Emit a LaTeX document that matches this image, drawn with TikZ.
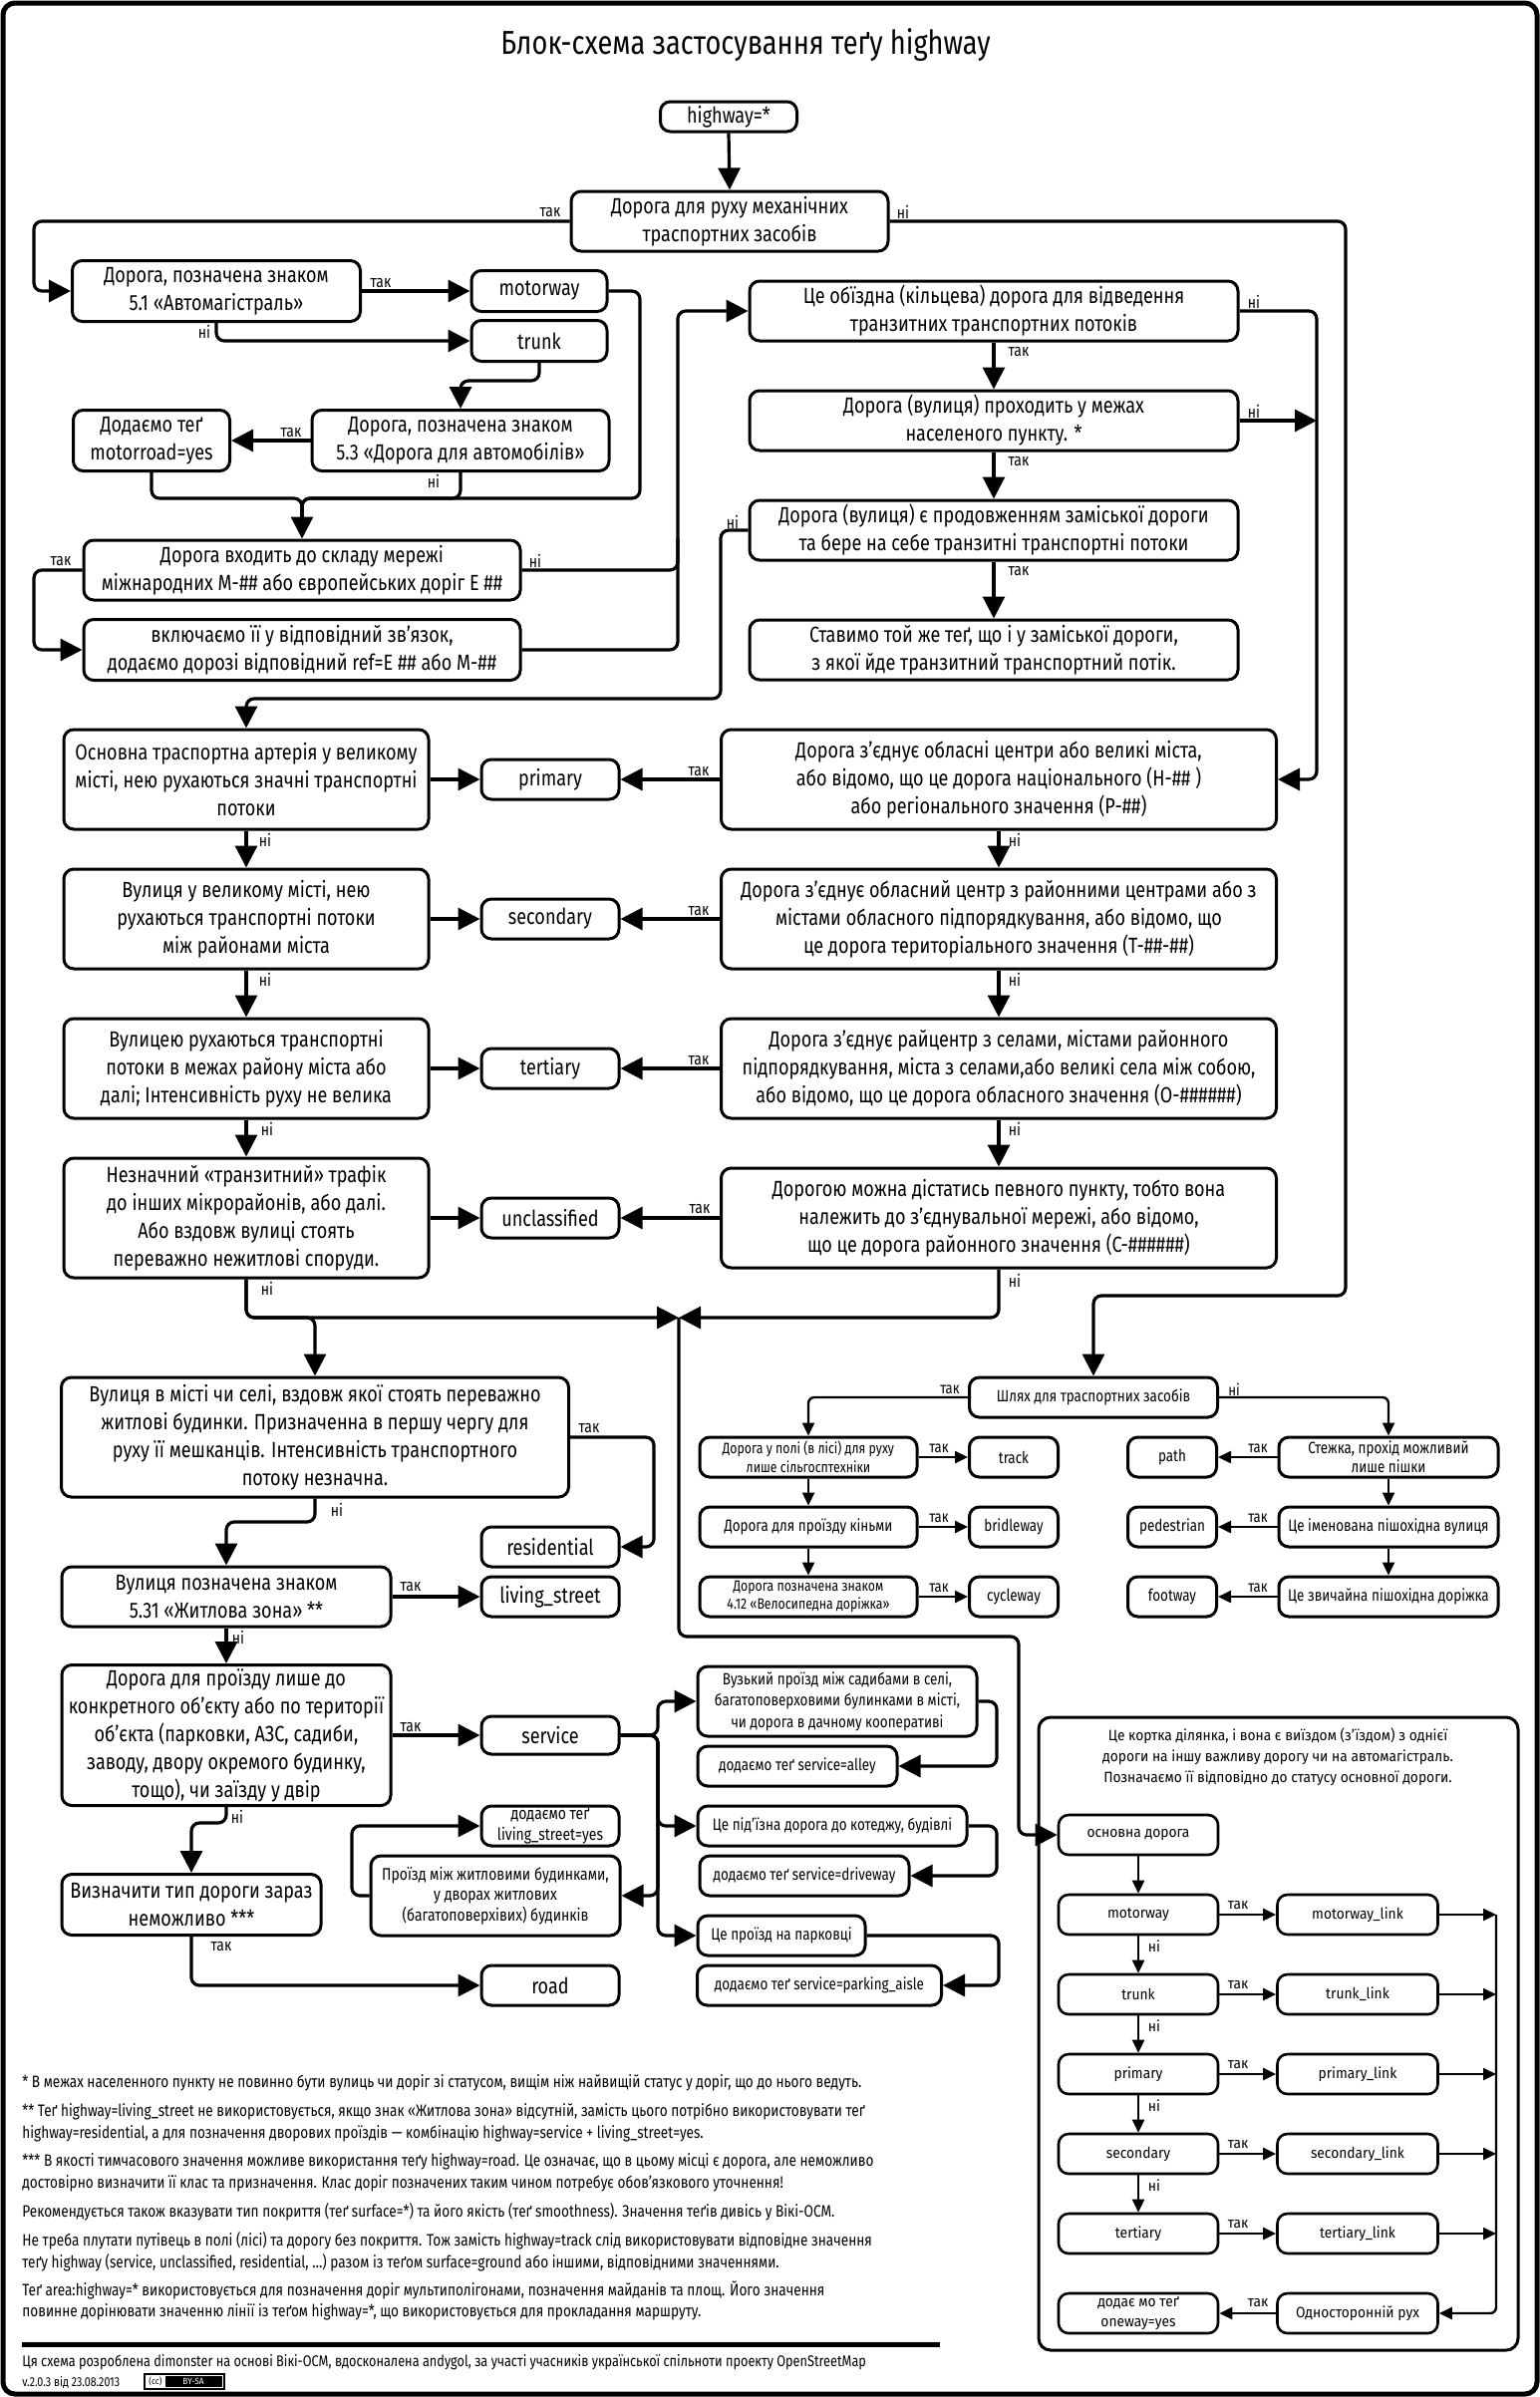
\documentclass[tikz,border=0pt]{standalone}
\usepackage{fontspec}
\setmainfont{Fira Sans}
\newfontfamily\cf[FakeStretch=0.82]{Fira Sans}
\newfontfamily\rf[FakeStretch=0.92]{Fira Sans}
\usetikzlibrary{arrows.meta}
\begin{document}
\begin{tikzpicture}[x=0.5pt,y=-0.5pt,
  box/.style={draw, line width=1.5pt, rounded corners=5pt, align=center, inner sep=1pt, font=\cf\fontsize{11}{14}\selectfont},
  sbox/.style={box, font=\cf\fontsize{8.2}{9.5}\selectfont},
  fanbox/.style={box, font=\cf\fontsize{8.2}{10.7}\selectfont},
  mbox/.style={box, font=\cf\fontsize{8.5}{10.2}\selectfont},
  pbox/.style={box, line width=1.3pt, font=\rf\fontsize{7.5}{10}\selectfont},
  sz/.style 2 args={minimum width=#1*0.5pt, minimum height=#2*0.5pt},
  lab/.style={inner sep=0pt, font=\cf\fontsize{8.5}{10}\selectfont},
  slab/.style={inner sep=0pt, font=\cf\fontsize{8}{9}\selectfont},
  plab/.style={inner sep=0pt, font=\rf\fontsize{7.5}{9}\selectfont},
  ln/.style={line width=1.6pt, rounded corners=4pt},
  conn/.style={ln, -{Triangle[length=11pt,width=11pt]}},
  sln/.style={line width=1.2pt, rounded corners=3pt},
  sconn/.style={sln, -{Triangle[length=6.5pt,width=6pt]}},
  note/.style={anchor=base west, inner sep=0pt, font=\cf\fontsize{8.3}{9}\selectfont},
]
\useasboundingbox (0,0) rectangle (1545,2405);
\draw[line width=2.5pt, rounded corners=6pt] (3,3) rectangle (1542,2402);

\node[inner sep=0pt, font=\cf\fontsize{16.6}{18}\selectfont] (title) at (748,45) {Блок-схема застосування теґу highway};

% ---------- top part ----------
\node[box, sz={137}{30}] (hw) at (731,117) {highway=*};
\node[box, sz={318}{60}] (q1) at (732,222) {Дорога для руху механічних\\траспортних засобів};
\node[box, sz={289}{61}] (q51) at (217,292) {Дорога, позначена знаком\\5.1 «Автомагістраль»};
\node[box, sz={136}{41}] (mw) at (541,292) {motorway};
\node[box, sz={136}{41}] (tr) at (541,342) {trunk};
\node[box, sz={298}{61}] (q53) at (462,442) {Дорога, позначена знаком\\5.3 «Дорога для автомобілів»};
\node[box, sz={157}{61}] (mr) at (152,442) {Додаємо теґ\\motorroad=yes};
\node[box, sz={438}{60}] (qE) at (303,572) {Дорога входить до складу мережі\\міжнародних М-\#\# або європейських доріг Е \#\#};
\node[box, sz={438}{61}] (incl) at (303,652) {включаємо її у відповідний зв’язок,\\додаємо дорозі відповідний ref=E \#\# або М-\#\#};
\node[box, sz={490}{60}] (qB) at (997,312) {Це обїздна (кільцева) дорога для відведення\\транзитних транспортних потоків};
\node[box, sz={490}{60}] (qN) at (997,422) {Дорога (вулиця) проходить у межах\\населеного пункту. *};
\node[box, sz={490}{60}] (qP) at (997,532) {Дорога (вулиця) є продовженням заміської дороги\\та бере на себе транзитні транспортні потоки};
\node[box, sz={490}{60}] (same) at (997,652) {Ставимо той же теґ, що і у заміської дороги,\\з якої йде транзитний транспортний потік.};

% ---------- classification columns ----------
\node[box, sz={366}{100}] (a1) at (247,782) {Основна траспортна артерія у великому\\місті, нею рухаються значні транспортні\\потоки};
\node[box, sz={138}{40}] (prim) at (552,782) {primary};
\node[box, sz={557}{100}] (b1) at (1002,782) {Дорога з’єднує обласні центри або великі міста,\\або відомо, що це дорога національного (Н-\#\# )\\або регіонального значення (Р-\#\#)};
\node[box, sz={366}{100}] (a2) at (247,922) {Вулиця у великому місті, нею\\рухаються транспортні потоки\\між районами міста};
\node[box, sz={138}{40}] (sec) at (552,922) {secondary};
\node[box, sz={557}{100}] (b2) at (1002,922) {Дорога з’єднує обласний центр з районними центрами або з\\містами обласного підпорядкування, або відомо, що\\це дорога територіального значення (Т-\#\#-\#\#)};
\node[box, sz={366}{100}] (a3) at (247,1072) {Вулицею рухаються транспортні\\потоки в межах району міста або\\далі; Інтенсивність руху не велика};
\node[box, sz={138}{40}] (ter) at (552,1072) {tertiary};
\node[box, sz={557}{100}] (b3) at (1002,1072) {Дорога з’єднує райцентр з селами, містами районного\\підпорядкування, міста з селами,або великі села між собою,\\або відомо, що це дорога обласного значення (О-\#\#\#\#\#\#)};
\node[box, sz={366}{120}] (a4) at (247,1222) {Незначний «транзитний» трафік\\до інших мікрорайонів, або далі.\\Або вздовж вулиці стоять\\переважно нежитлові споруди.};
\node[box, sz={138}{40}] (uncl) at (552,1222) {unclassified};
\node[box, sz={557}{100}] (b4) at (1002,1222) {Дорогою можна дістатись певного пункту, тобто вона\\належить до з’єднувальної мережі, або відомо,\\що це дорога районного значення (С-\#\#\#\#\#\#)};

% ---------- lower left ----------
\node[box, sz={509}{120}] (res) at (316,1442) {Вулиця в місті чи селі, вздовж якої стоять переважно\\житлові будинки. Призначенна в першу чергу для\\руху її мешканців. Інтенсивність транспортного\\потоку незначна.};
\node[box, sz={138}{40}] (resid) at (552,1552) {residential};
\node[box, sz={138}{40}] (liv) at (552,1602) {living\_street};
\node[box, sz={330}{60}] (ls) at (227,1602) {Вулиця позначена знаком\\5.31 «Житлова зона» **};
\node[box, sz={330}{141}] (svcq) at (227,1741) {Дорога для проїзду лише до\\конкретного об’єкту або по території\\об’єкта (парковки, АЗС, садиби,\\заводу, двору окремого будинку,\\тощо), чи заїзду у двір};
\node[box, sz={138}{38}] (svc) at (552,1741) {service};
\node[box, sz={260}{61}] (undef) at (192,1911) {Визначити тип дороги зараз\\неможливо ***};
\node[box, sz={138}{40}] (road) at (552,1992) {road};
\node[mbox, sz={138}{40}] (lsy) at (552,1832) {додаємо теґ\\living\_street=yes};
\node[mbox, sz={250}{80}] (yard) at (497,1902) {Проїзд між житловими будинками,\\у дворах житлових\\(багатоповерхівих) будинків};

\node[fanbox, sz={280}{70}] (narrow) at (840,1707) {Вузький проїзд між садибами в селі,\\багатоповерховими булинками в місті,\\чи дорога в дачному кооперативі};
\node[fanbox, sz={200}{40}] (alley) at (800,1772) {додаємо теґ service=alley};
\node[fanbox, sz={270}{40}] (drvq) at (835,1832) {Це під’їзна дорога до котеджу, будівлі};
\node[fanbox, sz={210}{40}] (drv) at (807,1882) {додаємо теґ service=driveway};
\node[fanbox, sz={168}{40}] (prkq) at (784,1942) {Це проїзд на парковці};
\node[fanbox, sz={245}{40}] (prk) at (822,1992) {додаємо теґ service=parking\_aisle};

% ---------- paths section ----------
\node[sbox, sz={249}{40}] (pathq) at (1097,1402) {Шлях для траспортних засобів};
\node[sbox, sz={218}{40}, font=\cf\fontsize{7.5}{9.5}\selectfont] (fld) at (811,1462) {Дорога у полі (в лісі) для руху\\лише сільгосптехніки};
\node[sbox, sz={89}{40}] (track) at (1017,1462) {track};
\node[sbox, sz={218}{40}] (horse) at (811,1532) {Дорога для проїзду кіньми};
\node[sbox, sz={89}{40}] (bridle) at (1017,1532) {bridleway};
\node[sbox, sz={218}{40}, font=\cf\fontsize{7.5}{8.6}\selectfont] (cycq) at (811,1602) {Дорога позначена знаком\\4.12 «Велосипедна доріжка»};
\node[sbox, sz={89}{40}] (cyc) at (1017,1602) {cycleway};
\node[sbox, sz={220}{40}] (foot1) at (1393,1462) {Стежка, прохід можливий\\лише пішки};
\node[sbox, sz={89}{40}] (pth) at (1176,1462) {path};
\node[sbox, sz={220}{40}] (pedq) at (1393,1532) {Це іменована пішохідна вулиця};
\node[sbox, sz={89}{40}] (ped) at (1176,1532) {pedestrian};
\node[sbox, sz={220}{40}] (fwq) at (1393,1602) {Це звичайна пішохідна доріжка};
\node[sbox, sz={89}{40}] (fw) at (1176,1602) {footway};

% ---------- link panel ----------
\draw[line width=1.5pt, rounded corners=6pt] (1042,1723) rectangle (1523,2358);
\node[align=center, inner sep=0pt, font=\rf\fontsize{7.5}{10.5}\selectfont] (phead) at (1282,1763) {Це кортка ділянка, і вона є виїздом (з’їздом) з однієї\\дороги на іншу важливу дорогу чи на автомагістраль.\\Позначаємо її відповідно до статусу основної дороги.};
\node[pbox, sz={160}{40}] (base) at (1142,1841) {основна дорога};
\node[pbox, sz={160}{40}] (pmw) at (1142,1921) {motorway};
\node[pbox, sz={160}{40}] (ptr) at (1142,2001) {trunk};
\node[pbox, sz={160}{40}] (ppr) at (1142,2081) {primary};
\node[pbox, sz={160}{40}] (psec) at (1142,2161) {secondary};
\node[pbox, sz={160}{40}] (pter) at (1142,2241) {tertiary};
\node[pbox, sz={160}{40}] (ow) at (1142,2321) {додає мо теґ\\oneway=yes};
\node[pbox, sz={161}{40}] (lmw) at (1362,1921) {motorway\_link};
\node[pbox, sz={161}{40}] (ltr) at (1362,2001) {trunk\_link};
\node[pbox, sz={161}{40}] (lpr) at (1362,2081) {primary\_link};
\node[pbox, sz={161}{40}] (lsec) at (1362,2161) {secondary\_link};
\node[pbox, sz={161}{40}] (lter) at (1362,2241) {tertiary\_link};
\node[pbox, sz={161}{40}] (owq) at (1362,2321) {Односторонній рух};

% ---------- coordinates ----------
\coordinate (jN) at (1321,422);
\coordinate (bow) at (681,1322);
\coordinate (c1) at (1501,1921);
\coordinate (c2) at (1501,2001);
\coordinate (c3) at (1501,2081);
\coordinate (c4) at (1501,2161);
\coordinate (c5) at (1501,2241);

% ---------- connectors ----------
\draw[conn] (hw.south) -- (q1.north);
\draw[conn] (q1.west) -- (34,222) -- (34,292) -- (q51.west);
\draw[conn] (q1.east) -- (1350,222) -- (1350,1300) -- (1097,1300) -- (pathq.north);
\draw[conn] (q51.east) -- (mw.west);
\draw[conn] (q51.south) -- (217,342) -- (tr.west);
\draw[conn] (tr.south) -- (541,382) -- (462,382) -- (q53.north);
\draw[conn] (q53.west) -- (mr.east);
\draw[conn] (mr.south) -- (152,500) -- (303,500) -- (qE.north);
\draw[ln] (q53.south) -- (462,500) -- (303,500) -- (303,520);
\draw[ln] (mw.east) -- (642,292) -- (642,500) -- (303,500) -- (303,520);
\draw[conn] (qE.west) -- (34,572) -- (34,652) -- (incl.west);
\draw[ln] (qE.east) -- (680,572) -- (680,540);
\draw[conn] (incl.east) -- (680,652) -- (680,312) -- (qB.west);
\draw[conn] (qB.east) -- (1321,312) -- (1321,782) -- (b1.east);
\draw[conn] (qB.south) -- (qN.north);
\draw[conn] (qN.east) -- (jN);
\draw[conn] (qN.south) -- (qP.north);
\draw[conn] (qP.south) -- (same.north);
\draw[conn] (qP.west) -- (723,532) -- (723,701) -- (247,701) -- (a1.north);

\draw[conn] (a1.east) -- (prim.west);
\draw[conn] (b1.west) -- (prim.east);
\draw[conn] (a2.east) -- (sec.west);
\draw[conn] (b2.west) -- (sec.east);
\draw[conn] (a3.east) -- (ter.west);
\draw[conn] (b3.west) -- (ter.east);
\draw[conn] (a4.east) -- (uncl.west);
\draw[conn] (b4.west) -- (uncl.east);
\draw[conn] (a1.south) -- (a2.north);
\draw[conn] (a2.south) -- (a3.north);
\draw[conn] (a3.south) -- (a4.north);
\draw[conn] (b1.south) -- (b2.north);
\draw[conn] (b2.south) -- (b3.north);
\draw[conn] (b3.south) -- (b4.north);

\draw[conn] (a4.south) -- (247,1322) -- (bow);
\draw[conn] (a4.south) -- (247,1322) -- (316,1322) -- (res.north);
\draw[conn] (b4.south) -- (1002,1322) -- (bow);
\draw[conn] (bow) -- (681,1642) -- (1022,1642) -- (1022,1841) -- (base.west);

\draw[conn] (res.east) -- (656,1442) -- (656,1552) -- (resid.east);
\draw[conn] (res.south) -- (316,1527) -- (227,1527) -- (ls.north);
\draw[conn] (ls.east) -- (liv.west);
\draw[conn] (ls.south) -- (svcq.north);
\draw[conn] (svcq.east) -- (svc.west);
\draw[conn] (svcq.south) -- (227,1829) -- (192,1829) -- (undef.north);
\draw[conn] (undef.south) -- (192,1992) -- (road.west);
\draw[conn] (yard.west) -- (353,1902) -- (353,1832) -- (lsy.west);
\draw[conn] (svc.east) -- (660,1741) -- (660,1707) -- (narrow.west);
\draw[conn] (svc.east) -- (660,1741) -- (660,1832) -- (drvq.west);
\draw[conn] (svc.east) -- (660,1741) -- (660,1942) -- (prkq.west);
\draw[conn] (svc.east) -- (660,1741) -- (660,1902) -- (yard.east);
\draw[conn] (narrow.east) -- (1000,1707) -- (1000,1772) -- (alley.east);
\draw[conn] (drvq.east) -- (1000,1832) -- (1000,1882) -- (drv.east);
\draw[conn] (prkq.east) -- (1002,1942) -- (1002,1992) -- (prk.east);

\draw[sconn] (pathq.west) -- (811,1402) -- (fld.north);
\draw[sconn] (pathq.east) -- (1393,1402) -- (foot1.north);
\draw[sconn] (fld.east) -- (track.west);
\draw[sconn] (horse.east) -- (bridle.west);
\draw[sconn] (cycq.east) -- (cyc.west);
\draw[sconn] (fld.south) -- (horse.north);
\draw[sconn] (horse.south) -- (cycq.north);
\draw[sconn] (foot1.west) -- (pth.east);
\draw[sconn] (pedq.west) -- (ped.east);
\draw[sconn] (fwq.west) -- (fw.east);
\draw[sconn] (foot1.south) -- (pedq.north);
\draw[sconn] (pedq.south) -- (fwq.north);

\draw[sconn] (base.south) -- (pmw.north);
\draw[sconn] (pmw.south) -- (ptr.north);
\draw[sconn] (ptr.south) -- (ppr.north);
\draw[sconn] (ppr.south) -- (psec.north);
\draw[sconn] (psec.south) -- (pter.north);
\draw[sconn] (pmw.east) -- (lmw.west);
\draw[sconn] (ptr.east) -- (ltr.west);
\draw[sconn] (ppr.east) -- (lpr.west);
\draw[sconn] (psec.east) -- (lsec.west);
\draw[sconn] (pter.east) -- (lter.west);
\draw[sconn] (lmw.east) -- (c1);
\draw[sconn] (ltr.east) -- (c2);
\draw[sconn] (lpr.east) -- (c3);
\draw[sconn] (lsec.east) -- (c4);
\draw[sconn] (lter.east) -- (c5);
\draw[sconn] (c1) -- (1501,2321) -- (owq.east);
\draw[sconn] (owq.west) -- (ow.east);

% ---------- labels ----------
\node[lab] (l1) at (552,213) {так};
\node[lab] (l2) at (906,213) {ні};
\node[lab] (l3) at (382,284) {так};
\node[lab] (l4) at (205,333) {ні};
\node[lab] (l5) at (292,434) {так};
\node[lab] (l6) at (435,483) {ні};
\node[lab] (l7) at (61,563) {так};
\node[lab] (l8) at (537,563) {ні};
\node[lab] (l9) at (1258,303) {ні};
\node[lab] (l10) at (1022,353) {так};
\node[lab] (l11) at (1258,413) {ні};
\node[lab] (l12) at (1022,463) {так};
\node[lab] (l13) at (735,524) {ні};
\node[lab] (l14) at (1022,573) {так};
\node[lab] (l15) at (701,774) {так};
\node[lab] (l16) at (266,843) {ні};
\node[lab] (l17) at (1018,843) {ні};
\node[lab] (l18) at (701,914) {так};
\node[lab] (l19) at (266,983) {ні};
\node[lab] (l20) at (1018,983) {ні};
\node[lab] (l21) at (701,1064) {так};
\node[lab] (l22) at (268,1133) {ні};
\node[lab] (l23) at (1018,1133) {ні};
\node[lab] (l24) at (702,1213) {так};
\node[lab] (l25) at (268,1293) {ні};
\node[lab] (l26) at (1018,1285) {ні};
\node[lab] (l27) at (591,1433) {так};
\node[lab] (l28) at (338,1515) {ні};
\node[lab] (l29) at (412,1592) {так};
\node[lab] (l30) at (239,1643) {ні};
\node[lab] (l31) at (412,1733) {так};
\node[lab] (l32) at (238,1823) {ні};
\node[lab] (l33) at (222,1953) {так};
\node[slab] (l34) at (953,1394) {так};
\node[slab] (l35) at (1238,1394) {ні};
\node[slab] (l36) at (942,1453) {так};
\node[slab] (l37) at (942,1523) {так};
\node[slab] (l38) at (942,1593) {так};
\node[slab] (l39) at (1262,1453) {так};
\node[slab] (l40) at (1262,1523) {так};
\node[slab] (l41) at (1262,1593) {так};
\node[plab] (l42) at (1242,1912) {так};
\node[plab] (l43) at (1242,1992) {так};
\node[plab] (l44) at (1242,2072) {так};
\node[plab] (l45) at (1242,2152) {так};
\node[plab] (l46) at (1242,2232) {так};
\node[plab] (l47) at (1158,1953) {ні};
\node[plab] (l48) at (1158,2033) {ні};
\node[plab] (l49) at (1158,2113) {ні};
\node[plab] (l50) at (1158,2193) {ні};
\node[plab] (l51) at (1262,2311) {так};

% ---------- notes ----------
\node[note] (n1) at (22,2094) {* В межах населенного пункту не повинно бути вулиць чи доріг зі статусом, вищім ніж найвищій статус у доріг, що до нього ведуть.};
\node[note] (n2) at (22,2123) {** Теґ highway=living\_street не використовується, якщо знак «Житлова зона» відсутній, замість цього потрібно використовувати теґ};
\node[note] (n3) at (22,2145) {highway=residential, а для позначення дворових проїздів — комбінацію highway=service + living\_street=yes.};
\node[note] (n4) at (22,2173) {*** В якості тимчасового значення можливе використання теґу highway=road. Це означає, що в цьому місці є дорога, але неможливо};
\node[note] (n5) at (22,2195) {достовірно визначити її клас та призначення. Клас доріг позначених таким чином потребує обов’язкового уточнення!};
\node[note] (n6) at (22,2224) {Рекомендується також вказувати тип покриття (теґ surface=*) та його якість (теґ smoothness). Значення теґів дивісь у Вікі-ОСМ.};
\node[note] (n7) at (22,2253) {Не треба плутати путівець в полі (лісі) та дорогу без покриття. Тож замість highway=track слід використовувати відповідне значення};
\node[note] (n8) at (22,2275) {теґу highway (service, unclassified, residential, …) разом із теґом surface=ground або іншими, відповідними значеннями.};
\node[note] (n9) at (22,2303) {Теґ area:highway=* використовується для позначення доріг мультиполігонами, позначення майданів та площ. Його значення};
\node[note] (n10) at (22,2324) {повинне дорінювати значенню лінії із теґом highway=*, що використовується для прокладання маршруту.};
\draw[line width=2.5pt] (22,2352) -- (943,2352);
\node[note, font=\cf\fontsize{7.75}{9}\selectfont] (n11) at (22,2374) {Ця схема розроблена dimonster на основі Вікі-ОСМ, вдосконалена andygol, за участі учасників української спільноти проекту OpenStreetMap};
\node[note, font=\cf\fontsize{6.5}{8}\selectfont] (n12) at (22,2394) {v.2.0.3 від 23.08.2013};
\draw[line width=0.6pt, fill=white] (145,2382) rectangle (225,2397);
\fill (166,2384) rectangle (223,2395);
\node[inner sep=0pt, font=\rf\fontsize{4.5}{5}\selectfont] (ccl) at (156,2389.5) {(cc)};
\node[inner sep=0pt, text=white, font=\rf\fontsize{4.5}{5}\selectfont] (ccr) at (194,2389.5) {BY-SA};
\end{tikzpicture}
\end{document}
